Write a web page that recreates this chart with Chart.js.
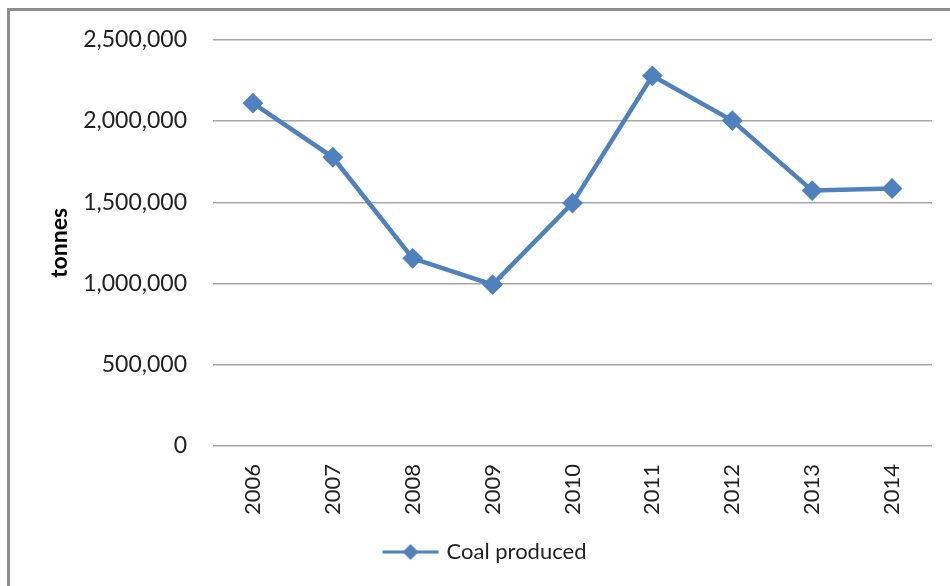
<!DOCTYPE html>
<html>
<head>
<meta charset="utf-8">
<script src="https://cdn.jsdelivr.net/npm/chart.js@4.4.1/dist/chart.umd.min.js"></script>
<style>
  html, body { margin: 0; padding: 0; background: #fff; }
  #wrap { position: relative; width: 950px; height: 586px; overflow: hidden; }
  #frame { position: absolute; left: 7px; top: 8px; width: 1000px; height: 1000px;
           border-left: 3px solid #8c8c8c; border-top: 3px solid #8c8c8c; }
  canvas { position: absolute; left: 0; top: 0; }
</style>
</head>
<body>
<div id="wrap">
  <div id="frame"></div>
  <canvas id="myChart" width="950" height="586"></canvas>
</div>
<script>
'use strict';

// chart data
var years = ['2006', '2007', '2008', '2009', '2010', '2011', '2012', '2013', '2014'];
var coalProduced = [2110000, 1777000, 1155000, 993000, 1495000, 2278000, 2003000, 1572000, 1585000];
var yTicks = [0, 500000, 1000000, 1500000, 2000000, 2500000];

var blue = '#4f81bd';
var fontName = 'Lato';

// little line + diamond picture for the legend
var legendIcon = document.createElement('canvas');
legendIcon.width = 62;
legendIcon.height = 22;
var ic = legendIcon.getContext('2d');
ic.strokeStyle = blue;
ic.lineWidth = 3;
ic.beginPath();
ic.moveTo(3, 11);
ic.lineTo(59, 11);
ic.stroke();
ic.fillStyle = blue;
ic.beginPath();
ic.moveTo(31, 3);
ic.lineTo(39, 11);
ic.lineTo(31, 19);
ic.lineTo(23, 11);
ic.closePath();
ic.fill();

var ctx = document.getElementById('myChart').getContext('2d');
var chart = new Chart(ctx, {
    type: 'line',
    data: {
        labels: years,
        datasets: [{
            label: 'Coal produced',
            data: coalProduced,
            borderColor: blue,
            backgroundColor: blue,
            borderWidth: 4.5,
            pointStyle: 'rectRot',
            pointRadius: 9,
            pointBorderWidth: 2,
            tension: 0
        }]
    },
    options: {
        responsive: false,
        animation: false,
        layout: {
            padding: { left: 40, top: 33, right: 18, bottom: 13 }
        },
        plugins: {
            tooltip: { enabled: false },
            legend: {
                position: 'bottom',
                labels: {
                    usePointStyle: true,
                    pointStyleWidth: 50,
                    boxHeight: 22,
                    color: '#222',
                    font: { family: fontName, size: 22 },
                    generateLabels: function (c) {
                        var items = Chart.defaults.plugins.legend.labels.generateLabels(c);
                        items.forEach(function (it) { it.pointStyle = legendIcon; });
                        return items;
                    }
                }
            }
        },
        scales: {
            x: {
                offset: true,
                grid: { display: false },
                border: { display: false },
                ticks: {
                    color: '#222',
                    font: { family: fontName, size: 22 },
                    minRotation: 90,
                    maxRotation: 90,
                    padding: 10
                },
                afterFit: function (scale) { scale.height = 85; }
            },
            y: {
                min: 0,
                max: 2500000,
                afterBuildTicks: function (scale) {
                    scale.ticks = yTicks.map(function (v) { return { value: v }; });
                },
                grid: { color: '#a6a6a6', lineWidth: 1.5, drawTicks: false },
                border: { display: false },
                ticks: {
                    color: '#222',
                    font: { family: fontName, size: 23 },
                    padding: 26,
                    callback: function (v) { return Number(v).toLocaleString('en-US'); }
                },
                title: {
                    display: true,
                    text: 'tonnes',
                    color: '#000',
                    font: { family: fontName, size: 23, weight: 'bold' },
                    padding: { top: 6, bottom: 0 }
                },
                afterFit: function (scale) { scale.width = 173; }
            }
        }
    }
});
</script>
</body>
</html>
